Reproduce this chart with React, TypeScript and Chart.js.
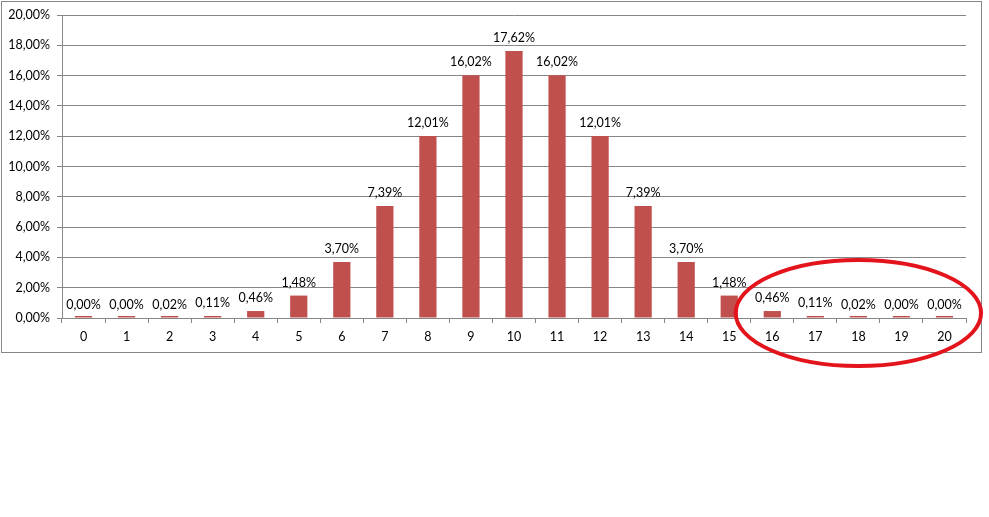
import React, { useEffect, useRef } from "react";
import { Chart, registerables } from "chart.js";

Chart.register(...registerables);

const categories = ["0","1","2","3","4","5","6","7","8","9","10","11","12","13","14","15","16","17","18","19","20"];
const probabilities = [0.0, 0.0, 0.02, 0.11, 0.46, 1.48, 3.70, 7.39, 12.01, 16.02, 17.62, 16.02, 12.01, 7.39, 3.70, 1.48, 0.46, 0.11, 0.02, 0.0, 0.0];
const highlightedCategories = ["16", "17", "18", "19", "20"];

const FONT = "Lato, 'Liberation Sans', sans-serif";
const FONT_SIZE = 12.5;
const GRID = "#868686";
const fmt = (v: number) => v.toFixed(2).replace(".", ",") + "%";

const frameAndLabels = {
  id: "frameAndLabels",
  beforeDraw(chart: any) {
    const ctx = chart.ctx;
    ctx.save();
    ctx.fillStyle = "#ffffff";
    ctx.fillRect(0, 0, chart.width, chart.height);
    ctx.strokeStyle = GRID;
    ctx.lineWidth = 1;
    ctx.strokeRect(1.5, 1.5, 980, 351);
    ctx.restore();
  },
  afterDatasetsDraw(chart: any) {
    const ctx = chart.ctx;
    const meta = chart.getDatasetMeta(0);
    const ys = chart.scales.y;
    ctx.save();
    ctx.font = FONT_SIZE + "px " + FONT;
    ctx.fillStyle = "#000000";
    ctx.textAlign = "center";
    ctx.textBaseline = "alphabetic";
    meta.data.forEach((bar: any, i: number) => {
      const v = probabilities[i];
      ctx.fillText(fmt(v), bar.x, ys.getPixelForValue(v) - 9);
    });
    ctx.restore();
  },
  afterDraw(chart: any) {
    const xs = chart.scales.x;
    const ys = chart.scales.y;
    const first = xs.getPixelForValue(categories.indexOf(highlightedCategories[0]));
    const last = xs.getPixelForValue(categories.indexOf(highlightedCategories[highlightedCategories.length - 1]));
    const step = xs.getPixelForValue(1) - xs.getPixelForValue(0);
    const cx = (first + last) / 2;
    const rx = (last - first) / 2 + step * 0.85;
    const cy = ys.getPixelForValue(0) - 5;
    const ry = 53;
    const ctx = chart.ctx;
    ctx.save();
    ctx.strokeStyle = "#e3141c";
    ctx.lineWidth = 4;
    ctx.beginPath();
    ctx.ellipse(cx, cy, rx, ry, 0, 0, Math.PI * 2);
    ctx.stroke();
    ctx.restore();
  },
};

export default function App() {
  const ref = useRef<HTMLCanvasElement>(null);
  useEffect(() => {
    document.body.style.margin = "0";
    const chart = new Chart(ref.current!, {
      type: "bar",
      data: {
        labels: categories,
        datasets: [
          {
            data: probabilities,
            backgroundColor: "#c0504d",
            barPercentage: 0.4,
            categoryPercentage: 1,
            minBarLength: 2,
          },
        ],
      },
      options: {
        animation: false,
        responsive: false,
        devicePixelRatio: 1,
        layout: { padding: { top: 15, right: 23, bottom: 0, left: 0 } },
        plugins: { legend: { display: false }, tooltip: { enabled: false } },
        scales: {
          x: {
            afterFit: (s: any) => { s.height = 199; },
            grid: { drawOnChartArea: false, drawTicks: true, tickLength: 5, color: GRID },
            border: { color: GRID },
            ticks: { color: "#000", font: { family: FONT, size: FONT_SIZE }, padding: 6, maxRotation: 0, autoSkip: false },
          },
          y: {
            min: 0,
            max: 20,
            afterFit: (s: any) => { s.width = 62; },
            grid: { color: GRID, tickLength: 5 },
            border: { color: GRID },
            ticks: { stepSize: 2, color: "#000", font: { family: FONT, size: FONT_SIZE }, padding: 7, callback: (v: any) => fmt(Number(v)) },
          },
        },
      },
      plugins: [frameAndLabels],
    });
    return () => chart.destroy();
  }, []);
  return (
    <div style={{ position: "absolute", left: 0, top: 0, width: 989, height: 517 }}>
      <canvas ref={ref} width={989} height={517} style={{ width: 989, height: 517 }} />
    </div>
  );
}
